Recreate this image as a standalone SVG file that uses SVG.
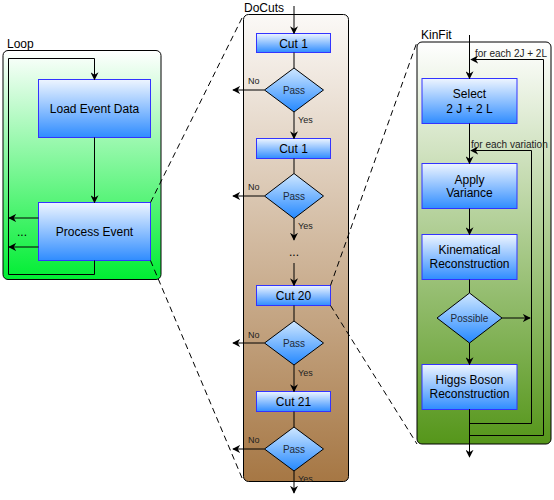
<svg xmlns="http://www.w3.org/2000/svg" width="554" height="500" viewBox="0 0 554 500">
<defs>
<linearGradient id="gLoop" x1="0" y1="0" x2="0" y2="1"><stop offset="0" stop-color="#ffffff"/><stop offset="1" stop-color="#00ee33"/></linearGradient>
<linearGradient id="gCuts" x1="0" y1="0" x2="0" y2="1"><stop offset="0" stop-color="#fbf9f7"/><stop offset="1" stop-color="#a67744"/></linearGradient>
<linearGradient id="gKin" x1="0" y1="0" x2="0" y2="1"><stop offset="0" stop-color="#ffffff"/><stop offset="1" stop-color="#55961a"/></linearGradient>
<linearGradient id="gBox" x1="0" y1="0" x2="0" y2="1"><stop offset="0" stop-color="#eef5ff"/><stop offset="1" stop-color="#2f8cff"/></linearGradient>
<linearGradient id="gDia" x1="0" y1="0" x2="0" y2="1"><stop offset="0" stop-color="#cfe7ff"/><stop offset="1" stop-color="#2488ff"/></linearGradient>
<marker id="arr" viewBox="0 0 10 10" refX="9" refY="5" markerWidth="8" markerHeight="8" markerUnits="userSpaceOnUse" orient="auto">
<path d="M0,0 L10,5 L0,10 L3,5 z" fill="#000"/>
</marker>
</defs>
<style>
.cont{stroke:#000;stroke-width:1}
.box{fill:url(#gBox);stroke:#3333ff;stroke-width:1}
.dia{fill:url(#gDia);stroke:#000;stroke-width:1}
.ln{fill:none;stroke:#000;stroke-width:1}
.ar{fill:none;stroke:#000;stroke-width:1;marker-end:url(#arr)}
.dash{fill:none;stroke:#000;stroke-width:1;stroke-dasharray:6,4}
text{font-family:"Liberation Sans",Arial,sans-serif;fill:#000}
.t12{font-size:12px;text-anchor:middle}
.t10{font-size:10px;text-anchor:middle;fill:#1e2a3a}
.t9{font-size:9px;fill:#222}
.tl{font-size:12px}
.tlab{font-size:10px;fill:#222}
</style>

<g id="loop">
<rect class="cont" x="3" y="50.5" width="158" height="229" rx="5" fill="url(#gLoop)"/>
<text class="tl" x="7" y="48">Loop</text>
</g>
<g id="docuts">
<rect class="cont" x="243.5" y="14.5" width="105" height="467" rx="5" fill="url(#gCuts)"/>
<text class="tl" x="244" y="12">DoCuts</text>
</g>
<g id="kinfit">
<rect class="cont" x="417" y="42" width="134" height="402" rx="5" fill="url(#gKin)"/>
<text class="tl" x="421" y="39">KinFit</text>
</g>

<g id="load-event-data"><rect class="box" x="38.5" y="79.5" width="112" height="58"/><text class="t12" x="94.5" y="112.5">Load Event Data</text></g>
<g id="process-event"><rect class="box" x="38.5" y="202.5" width="112" height="58"/><text class="t12" x="94.5" y="235.5">Process Event</text></g>

<g id="cut1a"><rect class="box" x="256.5" y="33.5" width="74" height="19"/><text class="t12" x="293.5" y="47.5">Cut 1</text></g>
<g id="pass1"><polygon class="dia" points="294,68 323.5,90 294,112 264.5,90"/><text class="t10" x="294" y="93.5">Pass</text></g>
<g id="cut1b"><rect class="box" x="256.5" y="138.5" width="74" height="20"/><text class="t12" x="293.5" y="153">Cut 1</text></g>
<g id="pass2"><polygon class="dia" points="294,173.5 323.5,196 294,218.5 264.5,196"/><text class="t10" x="294" y="199.5">Pass</text></g>
<g id="cut20"><rect class="box" x="256.5" y="285.5" width="74" height="20"/><text class="t12" x="293.5" y="300">Cut 20</text></g>
<g id="pass3"><polygon class="dia" points="294,321 323.5,343 294,365 264.5,343"/><text class="t10" x="294" y="346.5">Pass</text></g>
<g id="cut21"><rect class="box" x="256.5" y="391.5" width="74" height="20"/><text class="t12" x="293.5" y="406">Cut 21</text></g>
<g id="pass4"><polygon class="dia" points="294,427 323.5,449 294,471 264.5,449"/><text class="t10" x="294" y="452.5">Pass</text></g>

<g id="select"><rect class="box" x="422" y="78.5" width="95" height="45"/><text class="t12" x="469.5" y="97.5">Select</text><text class="t12" x="469.5" y="112.5">2 J + 2 L</text></g>
<g id="apply-variance"><rect class="box" x="422" y="163.5" width="95" height="45"/><text class="t12" x="469.5" y="183.5">Apply</text><text class="t12" x="469.5" y="197">Variance</text></g>
<g id="kinematical"><rect class="box" x="422" y="234.5" width="95" height="45"/><text class="t12" x="469.5" y="254">Kinematical</text><text class="t12" x="469.5" y="268">Reconstruction</text></g>
<g id="possible"><polygon class="dia" points="469.5,293 502,318 469.5,343 437,318"/><text class="t10" x="469.5" y="321.5">Possible</text></g>
<g id="higgs"><rect class="box" x="422" y="364.5" width="95" height="45"/><text class="t12" x="469.5" y="383.5">Higgs Boson</text><text class="t12" x="469.5" y="398">Reconstruction</text></g>

<g id="connectors">
<path class="ar" d="M94.5,137.5 V202.5"/>
<path class="ar" d="M94.5,260.5 V274.5 H8.5 V58.5 H94.5 V79.5"/>
<path class="ar" d="M38.5,218 H9"/>
<path class="ar" d="M38.5,247 H9"/>
<text class="t12" x="22" y="236">...</text>

<path class="ar" d="M294,6 V33.5"/>
<path class="ln" d="M294,52.5 V68"/>
<path class="ar" d="M264.5,90 H233"/>
<text class="t9" x="248" y="84">No</text>
<path class="ar" d="M294,112 V138.5"/>
<text class="t9" x="298" y="122.5">Yes</text>
<path class="ln" d="M294,158.5 V173.5"/>
<path class="ar" d="M264.5,196 H233"/>
<text class="t9" x="248" y="190">No</text>
<path class="ar" d="M294,218.5 V240"/>
<text class="t9" x="298" y="229">Yes</text>
<text class="t12" x="294" y="256">...</text>
<path class="ar" d="M294,263 V285.5"/>
<path class="ln" d="M294,305.5 V321"/>
<path class="ar" d="M264.5,343 H233"/>
<text class="t9" x="248" y="337.5">No</text>
<path class="ar" d="M294,365 V391.5"/>
<text class="t9" x="298" y="376">Yes</text>
<path class="ln" d="M294,411.5 V427"/>
<path class="ar" d="M264.5,449 H233"/>
<text class="t9" x="248" y="443">No</text>
<path class="ar" d="M294,471 V493"/>
<text class="t9" x="298" y="482">Yes</text>

<path class="ar" d="M469.5,35 V78.5"/>
<path class="ar" d="M469.5,123.5 V163.5"/>
<path class="ar" d="M469.5,208.5 V234.5"/>
<path class="ln" d="M469.5,279.5 V293"/>
<path class="ar" d="M469.5,343 V364.5"/>
<path class="ar" d="M502,318 H530"/>
<path class="ar" d="M469.5,409.5 V435.5 H543.5 V59.5 H471"/>
<path class="ar" d="M469.5,409.5 V423.5 H531.5 V150.5 H471"/>
<path class="ar" d="M469.5,409.5 V457"/>
<text class="tlab" x="475" y="57">for each 2J + 2L</text>
<text class="tlab" x="471" y="147.5">for each variation</text>

<path class="dash" d="M150.5,202.5 L243.5,15"/>
<path class="dash" d="M150.5,260.5 L243.5,481.5"/>
<path class="dash" d="M330.5,285.5 L417,42"/>
<path class="dash" d="M330.5,305.5 L417,444"/>
</g>
</svg>
